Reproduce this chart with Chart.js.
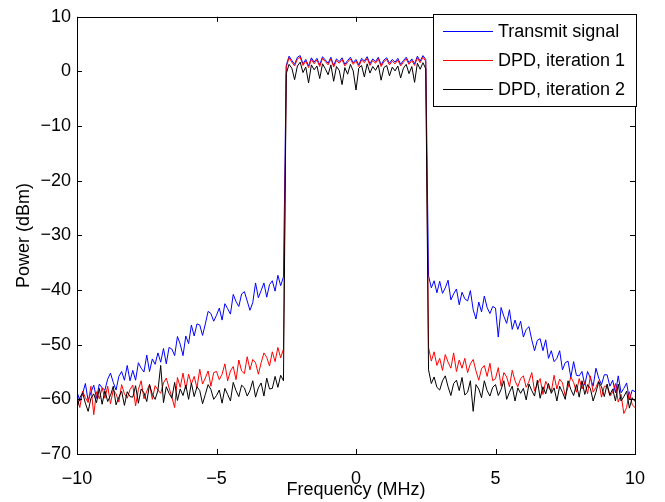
<!DOCTYPE html>
<html>
<head>
<meta charset="utf-8">
<script src="https://cdn.jsdelivr.net/npm/chart.js@4/dist/chart.umd.min.js"></script>
<style>
  html, body { margin: 0; padding: 0; background: #fff; }
  #wrap { width: 665px; height: 502px; position: relative; }
</style>
</head>
<body>
<div id="wrap"><canvas id="chart"></canvas></div>
<script>
// Sampling grid: -10 .. 10 MHz, 0.1 MHz step (201 points)
const FREQ = [];
for (let i = 0; i <= 200; i++) FREQ.push(Math.round((-10 + i * 0.1) * 10) / 10);

const X_TICKS = [-10, -5, 0, 5, 10];
const Y_TICKS = [-70, -60, -50, -40, -30, -20, -10, 0, 10];

const LABELS = ["Transmit signal", "DPD, iteration 1", "DPD, iteration 2"];
const COLORS = ["#0000ff", "#ff0000", "#000000"];

// Lower skirt, -10.0 .. -2.6 MHz
const blueLeft = [
  -58.6, -60.3, -59.0, -57.1, -60.3, -58.7, -57.4, -59.8, -57.2, -57.9,
  -58.3, -56.3, -55.2, -56.9, -58.3, -55.8, -54.9, -56.5, -53.8, -56.6,
  -54.7, -56.5, -53.3, -54.3, -55.0, -51.9, -54.9, -52.6, -53.6, -51.5,
  -53.2, -50.7, -53.5, -50.5, -50.8, -52.0, -48.5, -49.9, -52.0, -48.4,
  -49.8, -46.4, -48.4, -46.2, -46.4, -48.3, -46.2, -43.9, -44.3, -45.7,
  -44.6, -43.3, -45.5, -42.5, -43.4, -44.4, -40.8, -42.1, -43.0, -40.7,
  -40.3, -42.0, -43.7, -42.3, -38.7, -41.4, -40.1, -38.7, -41.3, -39.0,
  -38.3, -40.2, -37.3, -39.2, -37.6
];
const redLeft = [
  -59.5, -61.5, -58.5, -59.7, -60.6, -57.6, -62.8, -58.6, -59.9, -57.9,
  -59.8, -57.6, -60.8, -58.3, -59.0, -60.5, -57.3, -59.0, -59.8, -58.2,
  -57.4, -61.2, -58.2, -56.6, -59.9, -58.5, -57.3, -60.0, -57.5, -58.3,
  -58.9, -57.0, -56.1, -57.9, -59.6, -61.5, -56.0, -57.8, -55.2, -58.1,
  -55.4, -57.2, -55.8, -57.9, -54.5, -57.2, -56.1, -54.8, -57.6, -55.1,
  -54.9, -56.4, -55.4, -53.5, -56.6, -54.8, -54.0, -56.4, -52.8, -54.8,
  -55.3, -52.2, -54.6, -52.7, -53.3, -55.4, -53.3, -51.5, -52.3, -53.9,
  -51.3, -53.1, -50.5, -52.4, -50.8
];
const blackLeft = [
  -61.6, -59.7, -58.8, -60.7, -62.2, -59.8, -59.0, -60.6, -58.0, -60.9,
  -58.4, -60.4, -59.3, -57.6, -61.0, -59.6, -58.5, -61.1, -58.6, -59.5,
  -59.6, -57.5, -60.7, -58.1, -58.8, -60.4, -57.3, -59.1, -60.0, -58.4,
  -53.8, -60.6, -57.7, -58.9, -59.8, -56.9, -60.2, -58.1, -59.3, -57.4,
  -60.0, -57.0, -59.5, -57.7, -58.4, -60.8, -59.1, -57.3, -58.2, -60.0,
  -59.3, -58.3, -60.7, -58.0, -59.1, -60.3, -56.9, -58.4, -59.5, -57.4,
  -57.9, -59.4, -58.4, -56.6, -59.6, -57.9, -57.0, -59.4, -56.1, -58.1,
  -58.0, -55.8, -57.8, -55.6, -56.6
];

// Passband, -2.5 .. 2.5 MHz
const blueBand = [
  1.1, 2.8, 2.0, 1.3, 2.6, 2.9, 1.4, 2.2, 1.0, 2.5,
  1.7, 2.4, 1.2, 2.7, 2.1, 1.5, 2.6, 1.1, 2.3, 1.8,
  2.5, 1.3, 2.0, 2.6, 1.6, 2.2, 1.2, 2.4, 1.9, 2.7,
  1.4, 2.3, 1.8, 2.6, 1.2, 2.1, 2.5, 1.5, 2.2, 1.7,
  2.4, 1.3, 2.0, 2.6, 1.6, 2.3, 1.4, 2.8, 1.9, 2.9,
  2.2
];
const redBand = [
  0.8, 2.5, 1.7, 1.0, 2.3, 2.6, 1.1, 1.9, 0.7, 2.2,
  1.4, 2.1, 0.9, 2.4, 1.8, 1.2, 2.3, 0.8, 2.0, 1.5,
  2.2, 1.0, 1.7, 2.3, 1.3, 1.9, 0.9, 2.1, 1.6, 2.4,
  1.1, 2.0, 1.5, 2.3, 0.9, 1.8, 2.2, 1.2, 1.9, 1.4,
  2.1, 1.0, 1.7, 2.3, 1.3, 2.0, 1.1, 2.5, 1.6, 2.6,
  1.9
];
const blackBand = [
  -0.4, 1.3, 0.6, -1.5, 1.0, 1.7, -0.2, 0.8, -2.1, 1.2,
  0.3, 1.0, -1.3, 1.4, 0.5, -0.6, 1.2, -1.8, 0.9, 0.2,
  -2.4, 0.7, -0.5, 1.3, 0.1, -3.4, 0.6, 1.1, -1.0, 1.4,
  -0.3, 0.9, 0.2, 1.2, -1.6, 0.7, 1.1, -0.8, 0.8, 0.1,
  1.0, -1.2, 0.6, 1.3, -0.4, 0.9, -2.0, 1.5, 0.4, 1.6,
  0.5
];

// Upper skirt, 2.6 .. 10.0 MHz
const blueRight = [
  -37.4, -39.6, -38.3, -40.5,
  -38.4, -40.6, -39.6, -38.2, -41.8, -40.7, -39.8, -42.7, -40.4, -41.6,
  -42.0, -40.1, -43.6, -45.3, -42.2, -44.0, -41.1, -43.2, -44.3, -43.0,
  -43.3, -48.6, -43.2, -44.8, -46.1, -43.6, -47.2, -45.5, -47.2, -45.7,
  -48.6, -47.2, -46.7, -49.1, -51.1, -49.2, -48.9, -51.1, -49.1, -52.5,
  -51.1, -53.1, -52.5, -51.1, -54.6, -53.3, -53.0, -56.0, -53.1, -55.6,
  -55.7, -54.9, -57.4, -54.9, -56.1, -57.6, -54.3, -56.1, -57.3, -55.5,
  -55.5, -57.6, -56.5, -58.8, -55.7, -58.8, -58.0, -57.0, -60.1, -58.3,
  -58.6
];
const redRight = [
  -50.5, -53.0, -51.3, -53.8,
  -52.5, -54.7, -51.8, -53.2, -54.3, -51.5, -54.9, -52.8, -54.3, -52.5,
  -55.1, -53.5, -52.7, -54.8, -56.5, -54.4, -53.8, -55.8, -53.4, -56.6,
  -56.2, -54.2, -57.6, -55.1, -55.9, -57.7, -54.7, -56.6, -57.7, -56.2,
  -55.7, -57.8, -56.7, -55.1, -58.5, -57.2, -56.2, -59.1, -56.7, -57.8,
  -58.6, -55.6, -58.1, -56.3, -57.0, -59.4, -57.8, -55.9, -56.9, -58.7,
  -56.2, -58.1, -56.8, -59.0, -55.7, -58.7, -57.8, -56.6, -59.6, -57.6,
  -57.6, -59.4, -58.7, -57.1, -60.5, -59.1, -62.6, -61.5, -58.6, -61.0,
  -61.5
];
const blackRight = [
  -54.6, -57.1, -55.9, -57.8,
  -58.3, -56.6, -55.7, -57.7, -59.3, -57.1, -56.5, -58.4, -56.0, -59.2,
  -58.7, -56.6, -62.2, -57.3, -58.1, -59.7, -56.6, -58.4, -59.4, -57.8,
  -57.3, -59.3, -58.2, -56.6, -60.0, -58.7, -57.6, -60.3, -57.9, -58.9,
  -58.0, -60.1, -57.2, -58.4, -59.4, -56.5, -59.8, -57.7, -59.0, -57.1,
  -58.9, -57.9, -60.3, -57.6, -58.7, -60.0, -56.6, -58.2, -59.3, -57.3,
  -59.6, -56.6, -59.1, -57.3, -58.0, -60.3, -58.7, -56.8, -57.7, -59.5,
  -57.2, -59.2, -58.1, -60.3, -57.2, -60.3, -59.5, -58.5, -61.6, -59.7,
  -60.4
];

const BLUE = [...blueLeft, ...blueBand, ...blueRight];
const RED = [...redLeft, ...redBand, ...redRight];
const BLACK = [...blackLeft, ...blackBand, ...blackRight];

const FONT = "'Liberation Sans', Arial, Helvetica, sans-serif";
const minus = (v) => String(v).replace("-", "\u2212");
const toPoints = (ys) => ys.map((y, i) => ({ x: FREQ[i], y }));

function makeSet(label, data, color, order) {
  return {
    label,
    data: toPoints(data),
    borderColor: color,
    backgroundColor: color,
    borderWidth: 1,
    pointRadius: 0,
    tension: 0,
    fill: false,
    order,
  };
}

// Box, inward ticks on all four sides, and the boxed legend
const matlabFrame = {
  id: "matlabFrame",
  afterDraw(chart) {
    const { ctx, chartArea: a, scales } = chart;
    const tl = 5;
    ctx.save();
    ctx.strokeStyle = "#000";
    ctx.lineWidth = 1;
    ctx.beginPath();
    X_TICKS.forEach((v) => {
      const px = Math.round(scales.x.getPixelForValue(v)) + 0.5;
      ctx.moveTo(px, a.bottom); ctx.lineTo(px, a.bottom - tl);
      ctx.moveTo(px, a.top); ctx.lineTo(px, a.top + tl);
    });
    Y_TICKS.forEach((v) => {
      const py = Math.round(scales.y.getPixelForValue(v)) + 0.5;
      ctx.moveTo(a.left, py); ctx.lineTo(a.left + tl, py);
      ctx.moveTo(a.right, py); ctx.lineTo(a.right - tl, py);
    });
    ctx.stroke();
    ctx.strokeRect(Math.round(a.left) + 0.5, Math.round(a.top) + 0.5,
      Math.round(a.right - a.left), Math.round(a.bottom - a.top));

    // legend
    const lx = 433, ly = 14, lw = 203, lh = 92;
    ctx.fillStyle = "#fff";
    ctx.fillRect(lx, ly, lw, lh);
    ctx.strokeStyle = "#000";
    ctx.strokeRect(lx + 0.5, ly + 0.5, lw, lh);
    ctx.font = "18px " + FONT;
    ctx.textBaseline = "middle";
    ctx.textAlign = "left";
    const rows = [31, 60, 89];
    LABELS.forEach((label, i) => {
      ctx.strokeStyle = COLORS[i];
      ctx.beginPath();
      ctx.moveTo(443, rows[i] + 0.5);
      ctx.lineTo(493, rows[i] + 0.5);
      ctx.stroke();
      ctx.fillStyle = "#000";
      ctx.fillText(label, 498, rows[i] + 1);
    });
    ctx.restore();
  },
};

new Chart(document.getElementById("chart"), {
  type: "line",
  data: {
    datasets: [
      makeSet(LABELS[0], BLUE, COLORS[0], 3),
      makeSet(LABELS[1], RED, COLORS[1], 2),
      makeSet(LABELS[2], BLACK, COLORS[2], 1),
    ],
  },
  options: {
    responsive: true,
    maintainAspectRatio: false,
    animation: false,
    layout: { padding: { top: 14, right: 30, left: 0, bottom: 0 } },
    plugins: { legend: { display: false }, tooltip: { enabled: false } },
    scales: {
      x: {
        type: "linear",
        min: -10,
        max: 10,
        afterFit: (s) => { s.height = 48; },
        afterBuildTicks: (s) => { s.ticks = X_TICKS.map((v) => ({ value: v })); },
        grid: { display: false, drawTicks: false },
        border: { display: false },
        ticks: {
          padding: 14,
          color: "#000",
          font: { family: FONT, size: 18 },
          callback: minus,
        },
        title: {
          display: true,
          text: "Frequency (MHz)",
          color: "#000",
          font: { family: FONT, size: 18 },
          padding: { top: 0, bottom: 1 },
        },
      },
      y: {
        type: "linear",
        min: -70,
        max: 10,
        afterFit: (s) => { s.width = 77; },
        afterBuildTicks: (s) => { s.ticks = Y_TICKS.map((v) => ({ value: v })); },
        grid: { display: false, drawTicks: false },
        border: { display: false },
        ticks: {
          padding: 6,
          color: "#000",
          font: { family: FONT, size: 18 },
          callback: minus,
        },
        title: {
          display: true,
          text: "Power (dBm)",
          color: "#000",
          font: { family: FONT, size: 18 },
          padding: { top: 13, bottom: 0 },
        },
      },
    },
  },
  plugins: [matlabFrame],
});
</script>
</body>
</html>
